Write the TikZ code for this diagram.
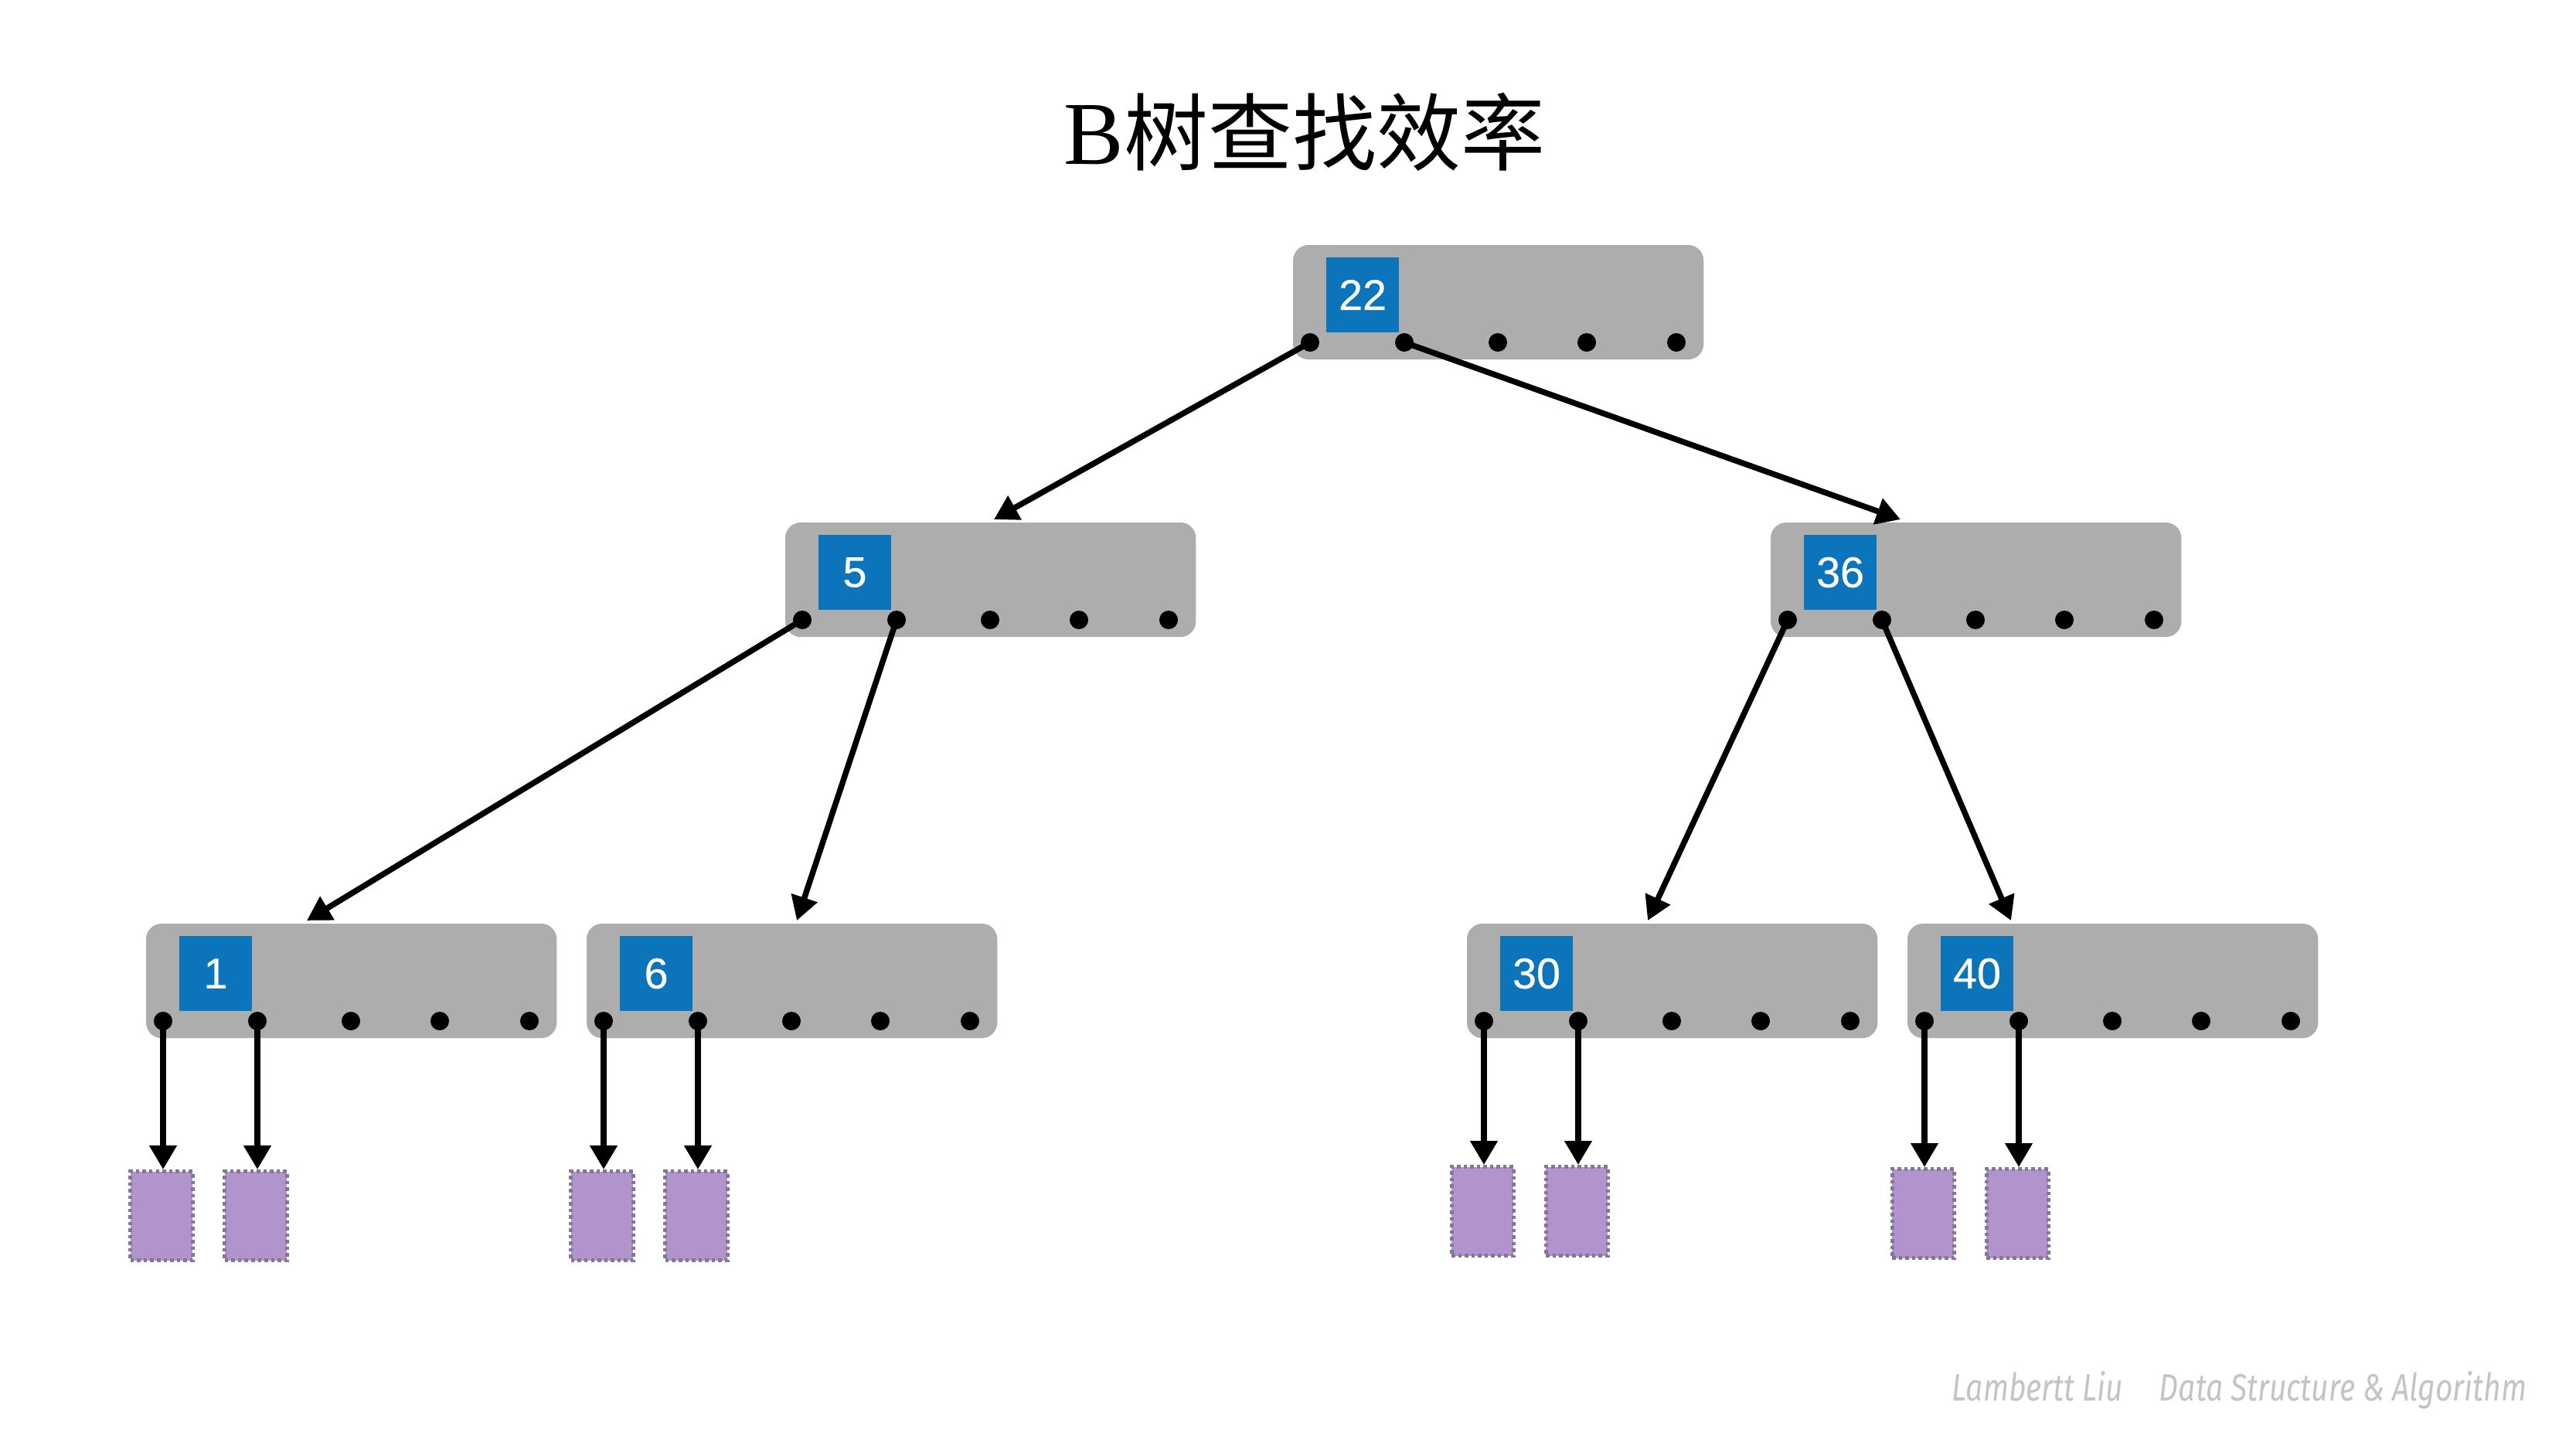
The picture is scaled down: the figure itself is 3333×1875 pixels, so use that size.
\documentclass[tikz,border=0pt]{standalone}
\usepackage{fontspec}
\usetikzlibrary{calc,arrows.meta}
\setmainfont{Liberation Serif}
\newfontfamily\cjkfont{Noto Sans CJK SC}
\newfontfamily\keyfont[FakeBold=0.5]{Liberation Sans}
\newfontfamily\footfont{Fira Sans}
\definecolor{nodegray}{HTML}{ADADAD}
\definecolor{keyblue}{HTML}{0B74BB}
\definecolor{leafpurple}{HTML}{B294CC}
\definecolor{leafborder}{HTML}{857598}
\definecolor{footgray}{HTML}{C4C4C4}
\tikzset{
  graybox/.style={fill=nodegray, rounded corners=2mm, minimum width=5.31cm, minimum height=1.48cm, inner sep=0pt, outer sep=0pt, anchor=north west},
  keybox/.style={fill=keyblue, minimum width=0.94cm, minimum height=0.97cm, inner sep=0pt, outer sep=0pt, anchor=north west, text=white, font=\keyfont\fontsize{15.8}{18}\selectfont},
  dotnode/.style={circle, fill=black, minimum size=2.4mm, inner sep=0pt, outer sep=0pt},
  leafbox/.style={fill=leafpurple, draw=leafborder, line width=0.5mm, dash pattern=on 0.45mm off 0.4mm, minimum width=0.80cm, minimum height=1.15cm, inner sep=0pt, anchor=north},
  treearrow/.style={line width=0.75mm, -{Triangle[width=3.4mm,length=3.1mm]}},
}
\newcommand{\btnode}[4]{%
  \node[graybox] (#1) at (#2,#3) {};
  \node[keybox] (#1k) at ($(#1.north west)+(43,16)$) {#4};
  \foreach \i/\dx in {0/22,1/144,2/265,3/380,4/496}{\node[dotnode] (#1d\i) at ($(#1.north west)+(\dx,126)$) {};}
}
\begin{document}
\begin{tikzpicture}[x=0.01cm, y=-0.01cm]
  \fill[white] (0,0) rectangle (3333,1875);
  \useasboundingbox (0,0) rectangle (3333,1875);

  % title
  \node[anchor=base, inner sep=0pt] (title) at (1688,212) {\fontsize{33}{36}\selectfont B\cjkfont\fontsize{31}{36}\selectfont 树查找效率};

  % B-tree nodes
  \btnode{root}{1673}{317}{22}
  \btnode{nA}{1016}{676}{5}
  \btnode{nB}{2291}{676}{36}
  \btnode{nC}{189}{1195}{1}
  \btnode{nD}{759}{1195}{6}
  \btnode{nE}{1898}{1195}{30}
  \btnode{nF}{2468}{1195}{40}

  % arrow targets on child node tops
  \coordinate (tA) at ($(nA.north west)+(270,-4)$);
  \coordinate (tB) at ($(nB.north west)+(168,-4)$);
  \coordinate (tC) at ($(nC.north west)+(208,-4)$);
  \coordinate (tD) at ($(nD.north west)+(272,-4)$);
  \coordinate (tE) at ($(nE.north west)+(234,-4)$);
  \coordinate (tF) at ($(nF.north west)+(134,-4)$);

  \draw[treearrow] (rootd0.center) -- (tA);
  \draw[treearrow] (rootd1.center) -- (tB);
  \draw[treearrow] (nAd0.center) -- (tC);
  \draw[treearrow] (nAd1.center) -- (tD);
  \draw[treearrow] (nBd0.center) -- (tE);
  \draw[treearrow] (nBd1.center) -- (tF);

  % leaf records
  \node[leafbox] (nCl0) at ($(nCd0)+(-2,192)$) {};
  \node[leafbox] (nCl1) at ($(nCd1)+(-2,192)$) {};
  \node[leafbox] (nDl0) at ($(nDd0)+(-2,192)$) {};
  \node[leafbox] (nDl1) at ($(nDd1)+(-2,192)$) {};
  \node[leafbox] (nEl0) at ($(nEd0)+(-2,186)$) {};
  \node[leafbox] (nEl1) at ($(nEd1)+(-2,186)$) {};
  \node[leafbox] (nFl0) at ($(nFd0)+(-2,189)$) {};
  \node[leafbox] (nFl1) at ($(nFd1)+(-2,189)$) {};

  \foreach \n in {nC,nD,nE,nF}{
    \foreach \i in {0,1}{
      \draw[treearrow] (\n d\i.center) -- (\n d\i.center |- \n l\i.north);
    }
  }

  % footer
  \node[anchor=base west, inner sep=0pt, text=footgray] (footer) at (2525,1812) {\resizebox{7.43cm}{\height}{\footfont\itshape\fontsize{14}{16}\selectfont Lambertt Liu\hspace{1.2em}Data Structure \& Algorithm}};
\end{tikzpicture}
\end{document}
